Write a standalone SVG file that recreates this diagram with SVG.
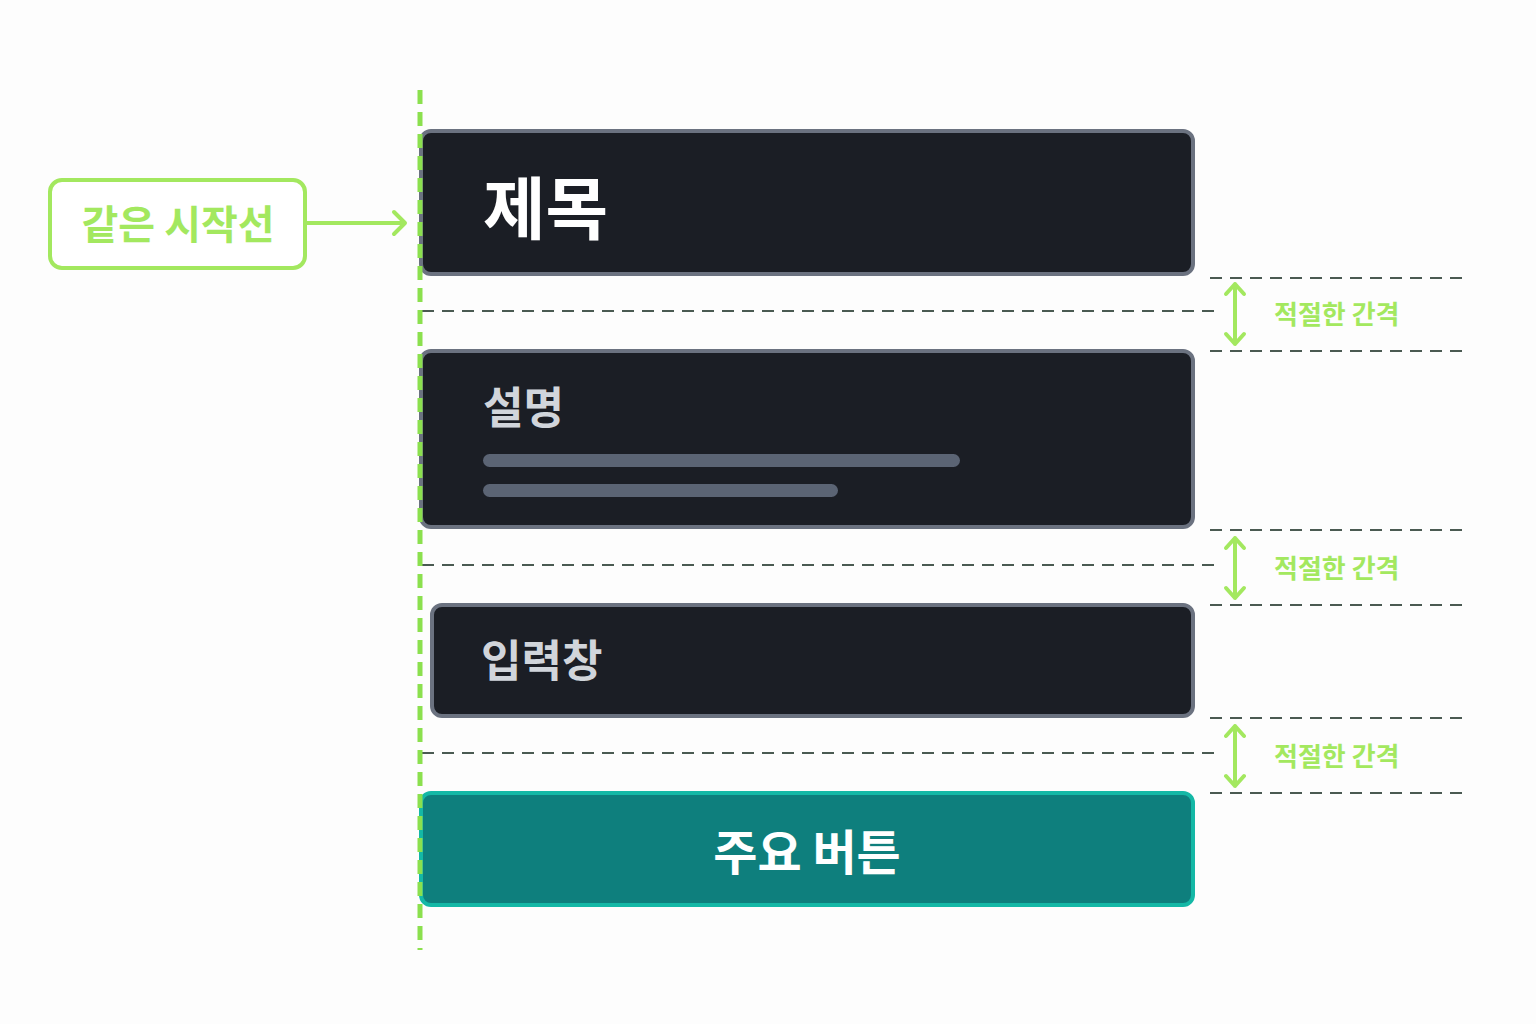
<svg xmlns="http://www.w3.org/2000/svg" width="1536" height="1024" viewBox="0 0 1536 1024">
<defs>
<style>
.box{fill:#1b1e25;stroke:#6b7280;stroke-width:4}
.t{font-family:"Noto Sans CJK KR",sans-serif;font-weight:700}
.dash{stroke:#4a5a52;stroke-width:2;stroke-dasharray:12 8;fill:none}
.gap{fill:#a3e85f;font-family:"Noto Sans CJK KR",sans-serif;font-size:26px;font-weight:700}
.arr{stroke:#a3e85f;stroke-width:4;fill:none;stroke-linecap:round;stroke-linejoin:round}
</style>
</defs>
<rect width="1536" height="1024" fill="#fdfdfd"/>
<g id="connectors">
<path class="dash" d="M422 311H1222M1210 278H1465M1210 351H1465"/>
<path class="dash" d="M422 565H1222M1210 530H1465M1210 605H1465"/>
<path class="dash" d="M422 753H1222M1210 718H1465M1210 793H1465"/>
<path class="arr" d="M1235 284V344M1226 294L1235 284L1244 294M1226 334L1235 344L1244 334"/>
<path class="arr" d="M1235 538V598M1226 548L1235 538L1244 548M1226 588L1235 598L1244 588"/>
<path class="arr" d="M1235 726V786M1226 736L1235 726L1244 736M1226 776L1235 786L1244 776"/>
<path class="arr" d="M306 223H404M394 212L405 223L394 234"/>
</g>
<g id="title"><rect class="box" x="421" y="131" width="772" height="143" rx="10"/><text class="t" x="483" y="234" font-size="68" fill="#fff">제목</text></g>
<g id="desc"><rect class="box" x="421" y="351" width="772" height="176" rx="10"/><text class="t" x="483" y="424" font-size="44" fill="#d1d5db">설명</text>
<rect x="483" y="454" width="477" height="13" rx="6.5" fill="#5b6474"/><rect x="483" y="484" width="355" height="13" rx="6.5" fill="#5b6474"/></g>
<g id="input"><rect class="box" x="432" y="605" width="761" height="111" rx="10" fill="#14161a"/><text class="t" x="481" y="677" font-size="44" fill="#d1d5db">입력창</text></g>
<g id="button"><rect x="421" y="793" width="772" height="112" rx="10" fill="#0e7f7d" stroke="#14b8a6" stroke-width="4"/><text class="t" x="807" y="870" font-size="48" fill="#fff" text-anchor="middle">주요 버튼</text></g>
<g id="label"><rect x="50" y="180" width="255" height="88" rx="12" fill="#fff" stroke="#a3e85f" stroke-width="4"/><text class="t" x="178" y="239" font-size="40" fill="#a3e85f" text-anchor="middle">같은 시작선</text></g>
<g id="guide"><line x1="420" y1="90" x2="420" y2="950" stroke="#8be04e" stroke-width="5" stroke-dasharray="14 8"/></g>
<g id="gaps"><text class="gap" x="1274" y="324">적절한 간격</text><text class="gap" x="1274" y="578">적절한 간격</text><text class="gap" x="1274" y="766">적절한 간격</text></g>
</svg>
